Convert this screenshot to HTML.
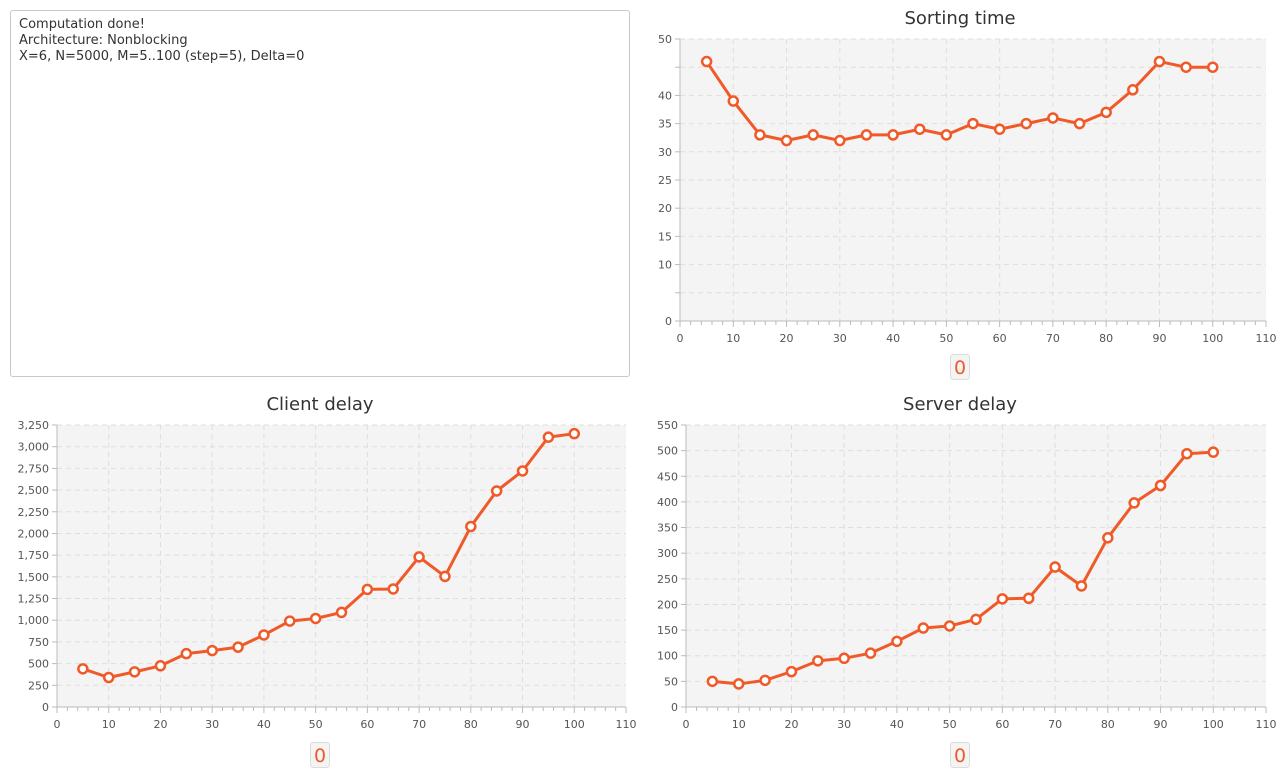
<!DOCTYPE html>
<html><head><meta charset="utf-8"><style>
body{margin:0;width:1280px;height:774px;background:#fff;font-family:"DejaVu Sans","Liberation Sans",sans-serif;position:relative;overflow:hidden}
#log{position:absolute;left:10px;top:10px;width:620px;height:367px;border:1px solid #c8c8c8;border-radius:3px;box-sizing:border-box;padding:6px 8px;font-size:13px;line-height:16px;color:#333}
.leg{position:absolute;width:20px;height:26px;border:1px solid #ddd;border-radius:3px;background:#f4f4f4;color:#f05a28;font-size:19px;text-align:center;line-height:26px;box-sizing:border-box}
svg{position:absolute;left:0;top:0}
</style></head><body>
<div id="log">Computation done!<br>Architecture: Nonblocking<br>X=6, N=5000, M=5..100 (step=5), Delta=0</div>
<div class="leg" style="left:950px;top:354px">0</div>
<div class="leg" style="left:310px;top:742px">0</div>
<div class="leg" style="left:950px;top:742px">0</div>
<svg id="s" width="1280" height="774"></svg>
<script>
const xCats=[5,10,15,20,25,30,35,40,45,50,55,60,65,70,75,80,85,90,95,100];
const sortVals=[46,39,33,32,33,32,33,33,34,33,35,34,35,36,35,37,41,46,45,45];
const clientVals=[440,340,405,475,615,650,690,830,990,1020,1090,1355,1360,1730,1505,2080,2490,2720,3110,3150];
const serverVals=[50,45,52,69,90,95,105,128,154,158,171,211,212,273,236,330,398,432,494,497];
const sortTicks=[0,5,10,15,20,25,30,35,40,45,50];
const sortLabels=['0','','10','15','20','25','30','35','40','','50'];
const clientTicks=[0,250,500,750,1000,1250,1500,1750,2000,2250,2500,2750,3000,3250];
const clientLabels=['0','250','500','750','1,000','1,250','1,500','1,750','2,000','2,250','2,500','2,750','3,000','3,250'];
const serverTicks=[0,50,100,150,200,250,300,350,400,450,500,550];
const serverLabels=serverTicks.map(String);
const xTicks=[0,10,20,30,40,50,60,70,80,90,100,110];
const NS='http://www.w3.org/2000/svg';
const svg=document.getElementById('s');
function mk(t,a,p){const e=document.createElementNS(NS,t);for(const k in a)e.setAttribute(k,a[k]);(p||svg).appendChild(e);return e;}
function chart(name,title,cx,L,R,T,B,yMax,ticks,labels,vals){
  const g=mk('g',{});
  
  
  const sx=v=>L+(R-L)*v/110, sy=v=>B-(B-T)*v/yMax;
  const tt=mk('text',{x:cx,y:T-15,'text-anchor':'middle','font-size':18,fill:'#333'},g);tt.textContent=title;
  
  
  mk('rect',{x:L,y:T,width:R-L,height:B-T,fill:'#f4f4f4'},g);
  ticks.forEach((v,i)=>{const y=sy(v);
    mk('line',{x1:L,x2:R,y1:y,y2:y,stroke:'#dedede','stroke-dasharray':'5,4'},g);
    mk('line',{x1:L-5,x2:L,y1:y,y2:y,stroke:'#bbb'},g);
    if(labels[i]){const t=mk('text',{x:L-8,y:y+4,'text-anchor':'end','font-size':11,fill:'#555'},g);t.textContent=labels[i];
      
      }
  });
  for(let v=0;v<=110;v+=2){const x=sx(v);mk('line',{x1:x,x2:x,y1:B,y2:B+(v%10==0?6:4),stroke:'#bbb'},g);}
  xTicks.forEach(v=>{const x=sx(v);
    if(v>0&&v<110)mk('line',{x1:x,x2:x,y1:T,y2:B,stroke:'#dedede','stroke-dasharray':'5,4'},g);
    const t=mk('text',{x:x,y:B+21,'text-anchor':'middle','font-size':11,fill:'#555'},g);t.textContent=v;
    
    
  });
  mk('line',{x1:L,x2:L,y1:T,y2:B,stroke:'#bbb'},g);
  mk('line',{x1:L,x2:R,y1:B,y2:B,stroke:'#bbb'},g);
  const pts=xCats.map((c,i)=>sx(c)+','+sy(vals[i])).join(' ');
  const pl=mk('polyline',{points:pts,fill:'none',stroke:'#f05a28','stroke-width':3,'stroke-linejoin':'round'},g);
  
  
  xCats.forEach((c,i)=>{const p=mk('circle',{cx:sx(c),cy:sy(vals[i]),r:4.5,fill:'#fff',stroke:'#f05a28','stroke-width':2.5},g);
    
    });
}
chart('sorting','Sorting time',960,680,1266,39,321,50,sortTicks,sortLabels,sortVals);
chart('client','Client delay',320,57,626,425,707,3250,clientTicks,clientLabels,clientVals);
chart('server','Server delay',960,686,1266,425,707,550,serverTicks,serverLabels,serverVals);
</script>
</body></html>
